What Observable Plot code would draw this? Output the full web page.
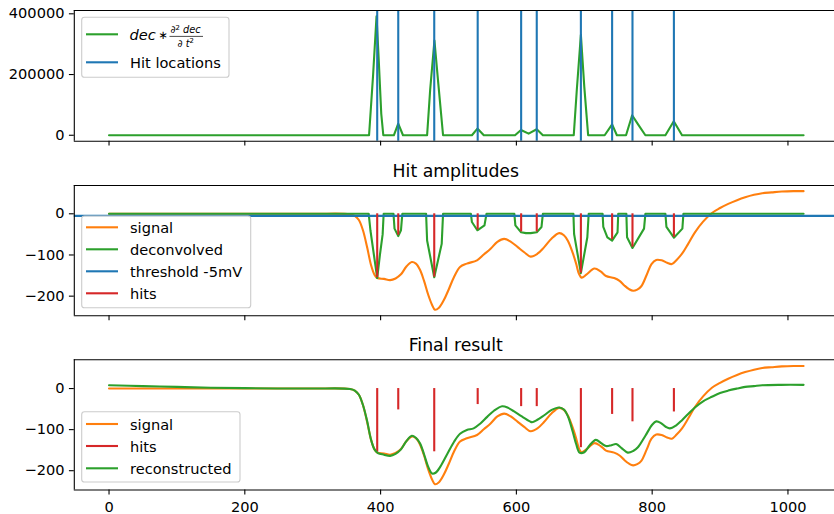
<!DOCTYPE html>
<html><head><meta charset="utf-8">
<script src="https://cdn.jsdelivr.net/npm/d3@7"></script>
<script src="https://cdn.jsdelivr.net/npm/@observablehq/plot@0.6"></script>
<style>
body{margin:0;background:#fff;}
#chart{width:834px;height:514px;position:relative;overflow:hidden;}
#chart svg{display:block;}
</style></head><body><div id="chart"></div>
<script>
// ---------- data ----------
const hitX   = [395, 426, 479, 543, 607, 630, 695, 741, 771, 832];
const hitAmp = [-155, -52, -154, -39, -44, -44, -144, -63, -81, -57];

// dec * d2dec/dt2 (top panel)
const curvature = [
  [0,0],[383,0],[389,200000],[394,392000],[397,260000],[401,70000],[404,0],
  [419.5,0],[426,38000],[433,0],
  [468.5,0],[473,150000],[479.3,312000],[485,170000],[492,0],
  [534.5,0],[542.6,22000],[552,0],
  [598,0],[606.8,17500],[618,5500],[630,19700],[639,0],
  [684.5,0],[689,150000],[695,331000],[700,160000],[705.7,0],
  [730,0],[741,36000],[748,0],
  [761.5,0],[770.5,66000],[778,40000],[790,0],
  [819.5,0],[831.8,46000],[844,0],
  [1023,0]
];

const signal = [
  [0,0],[100,0],[200,0],[300,0],[355,-1],[362,-5],[368,-15],[374,-40],[380,-80],[386,-125],
  [391,-148],[395,-156],[405,-158],[414,-161],[422,-157],[430,-147],[438,-128],[446,-117],
  [452,-121],[458,-136],[464,-163],[470,-196],[476,-222],[480,-233],[486,-228],[493,-210],
  [500,-185],[508,-154],[517,-129],[527,-121],[542,-113],[552,-99],[562,-85],[572,-68],
  [582,-61],[592,-68],[602,-81],[612,-94],[621,-104],[631,-97],[641,-81],[652,-60],[663,-47],
  [670,-52],[676,-66],[683,-95],[688,-121],[692,-145],[696,-155],[703,-148],[715,-133],
  [724,-140],[732,-151],[744,-156],[752,-163],[759,-174],[766,-183],[772,-187],[778,-184],
  [784,-176],[792,-148],[799,-122],[806,-112],[814,-113],[822,-119],[829,-122],[836,-112],
  [844,-97],[853,-73],[863,-45],[875,-19],[888,2],[900,14],[912,24],[925,33],[937,40],
  [950,46],[962,50],[976,52],[991,54],[1008,55],[1023,55]
];

const deconvolved = [
  [0,0],[382.5,0],[385,-40],[395,-156],[399,-100],[403,-50],[404.5,0],
  [419,0],[420.5,-36],[426,-54],[430,-40],[432,0],
  [467,0],[468.5,-65],[479,-154],[490,-73],[492,0],
  [533,0],[534.5,-20],[542.5,-40],[553,-28],[556,0],
  [597,0],[598.5,-28],[607,-45],[614,-47],[621,-47],[630,-45],[637,-32],[639,0],
  [684,0],[685,-49],[695,-144],[704.5,-57],[706.5,0],
  [727,0],[728,-32],[734,-57],[741,-65],[749,-45],[750,0],
  [762,0],[763,-57],[771,-83],[788,-36],[790,0],
  [819.5,0],[821,-32],[832,-58],[844.5,-36],[846,0],
  [1023,0]
];

const reconstructed = [
  [0,8],[50,6],[100,4],[150,2],[200,1],[250,0],[300,0],[355,-1],[362,-5],[368,-15],[374,-40],
  [380,-78],[386,-125],[391,-148],[396,-157],[405,-161],[414,-164],[422,-159],[430,-148],
  [438,-128],[446,-115],[452,-120],[458,-133],[464,-160],[470,-190],[476,-207],[481,-205],
  [488,-190],[498,-160],[508,-130],[517,-110],[527,-101],[537,-97],[547,-85],[557,-69],
  [567,-54],[579,-43],[588,-47],[596,-55],[608,-68],[620,-80],[623,-82],[631,-76],[641,-65],
  [652,-52],[663,-46],[670,-51],[676,-68],[683,-105],[688,-135],[693,-156],[700,-155],
  [708,-138],[717,-125],[725,-133],[732,-140],[740,-138],[747,-135],[755,-145],[764,-156],
  [772,-152],[779,-143],[790,-115],[800,-88],[806,-80],[813,-84],[820,-93],[826,-97],
  [835,-90],[844,-77],[853,-62],[863,-46],[875,-31],[888,-20],[900,-11],[912,-5],[925,0],
  [937,4],[950,6],[962,8],[990,9],[1023,9]
];

const threshold = -5;
const xTicks = [0, 200, 400, 600, 800, 1000];
const yTicksTop = [0, 200000, 400000];
const yTicksAmp = [-200, -100, 0];

// ---------- styling ----------
const C = {blue:"#1f77b4", orange:"#ff7f0e", green:"#2ca02c", red:"#d62728"};
const FONT = "'DejaVu Sans', sans-serif";
const FS = 14.6, FST = 17.3;
const LW = 2.1, SW = 1.1, TICK = 4.9;
const xDom = [-51.15, 1074.15];
const hits = hitX.map((x, i) => ({x, amp: hitAmp[i]}));

function panel({height, marginTop, marginBottom, yDomain, yTicks, marks, showX}) {
  return Plot.plot({
    width: 834, height, marginLeft: 73.8, marginRight: 0, marginTop, marginBottom,
    style: {fontFamily: FONT, fontSize: FS + "px", color: "#000", background: "transparent"},
    x: {domain: xDom, range: [73.8, 837.8]},
    y: {domain: yDomain},
    marks: [
      ...marks,
      Plot.ruleX([xDom[0]], {stroke: "#000", strokeWidth: SW}),
      Plot.ruleY(yDomain, {stroke: "#000", strokeWidth: SW}),
      Plot.axisX({ticks: xTicks, tickSize: TICK, tickPadding: 7, strokeWidth: SW, fontSize: FS,
        tickFormat: showX ? (d => String(d)) : (() => ""), label: null}),
      Plot.axisY({ticks: yTicks, tickSize: TICK, tickPadding: 4.9, strokeWidth: SW, fontSize: FS,
        tickFormat: d3.format("d"), label: null})
    ]
  });
}

const line = (data, color, curve="linear") =>
  Plot.line(data, {x: d => d[0], y: d => d[1], stroke: color, strokeWidth: LW, curve, strokeLinejoin: "round"});

const p1 = panel({
  height: 155, marginTop: 10, marginBottom: 14.3, yDomain: [-19565, 410865], yTicks: yTicksTop,
  marks: [
    line(curvature, C.green),
    Plot.ruleX(hits, {x: "x", stroke: C.blue, strokeWidth: LW})
  ]
});
const p2 = panel({
  height: 175, marginTop: 30, marginBottom: 14.7, yDomain: [-247.7, 68.7], yTicks: yTicksAmp,
  marks: [
    line(signal, C.orange, "catmull-rom"),
    line(deconvolved, C.green),
    Plot.ruleY([threshold], {stroke: C.blue, strokeWidth: LW}),
    Plot.ruleX(hits, {x: "x", y1: 0, y2: "amp", stroke: C.red, strokeWidth: LW})
  ]
});
const p3 = panel({
  height: 184, marginTop: 29.3, marginBottom: 24.5, yDomain: [-247, 70], yTicks: yTicksAmp, showX: true,
  marks: [
    line(signal, C.orange, "catmull-rom"),
    Plot.ruleX(hits, {x: "x", y1: 0, y2: "amp", stroke: C.red, strokeWidth: LW}),
    line(reconstructed, C.green, "catmull-rom")
  ]
});

const chart = document.getElementById("chart");
[p1, p2, p3].forEach(p => chart.appendChild(p));

function title(svg, text, baseline) {
  const cx = svg.scale("x").apply((xDom[0] + xDom[1]) / 2);
  d3.select(svg).append("text").attr("x", cx).attr("y", baseline).attr("text-anchor", "middle")
    .attr("font-family", FONT).attr("font-size", FST).attr("fill", "#000").text(text);
}
title(p2, "Hit amplitudes", 30 - 8.3);
title(p3, "Final result", 29.3 - 8.3);

function legendBox(svg, x, y, w, h) {
  const g = d3.select(svg).append("g").attr("text-anchor", "start");
  g.append("rect").attr("x", x).attr("y", y).attr("width", w).attr("height", h).attr("rx", 2.8)
    .attr("fill", "#fff").attr("fill-opacity", 0.8).attr("stroke", "#cccccc").attr("stroke-width", 1.1);
  return g;
}
function legendEntry(g, y, color, label) {
  g.append("line").attr("x1", 86).attr("x2", 118).attr("y1", y).attr("y2", y)
    .attr("stroke", color).attr("stroke-width", LW);
  if (label != null)
    g.append("text").attr("x", 130).attr("y", y).attr("dy", "0.38em").attr("font-family", FONT)
      .attr("text-anchor", "start").attr("font-size", FS).attr("fill", "#000").text(label);
}

// top legend (page offset 0)
{
  const g = legendBox(p1, 81.7, 17.3, 147.3, 60);
  legendEntry(g, 34.3, C.green, null);
  const t = g.append("g").attr("font-family", FONT).attr("fill", "#000").attr("text-anchor", "start");
  t.append("text").attr("x", 129.5).attr("y", 40).attr("font-size", FS).attr("font-style", "italic").text("dec");
  t.append("text").attr("x", 158.5).attr("y", 39).attr("font-size", 11.5).text("∗");
  const num = t.append("text").attr("x", 170.5).attr("y", 33.2).attr("font-size", 9.8).attr("font-style", "italic");
  num.append("tspan").text("∂");
  num.append("tspan").attr("font-size", 6.9).attr("dy", -3.5).attr("font-style", "normal").text("2");
  num.append("tspan").attr("dy", 3.5).text(" dec");
  g.append("line").attr("x1", 169.5).attr("x2", 203).attr("y1", 36.4).attr("y2", 36.4).attr("stroke", "#000").attr("stroke-width", 0.7);
  const den = t.append("text").attr("x", 177.5).attr("y", 46.5).attr("font-size", 9.8).attr("font-style", "italic");
  den.append("tspan").text("∂ t");
  den.append("tspan").attr("font-size", 6.9).attr("dy", -3.5).attr("font-style", "normal").text("2");
  legendEntry(g, 62.3, C.blue, "Hit locations");
}
// middle legend (page offset 155)
{
  const o = 155;
  const g = legendBox(p2, 81.7, 216 - o, 169, 91.7);
  legendEntry(g, 227.3 - o, C.orange, "signal");
  legendEntry(g, 249.3 - o, C.green, "deconvolved");
  legendEntry(g, 271.3 - o, C.blue, "threshold -5mV");
  legendEntry(g, 293.3 - o, C.red, "hits");
}
// bottom legend (page offset 330)
{
  const o = 330;
  const g = legendBox(p3, 81.7, 411.7 - o, 158.3, 70.3);
  legendEntry(g, 424 - o, C.orange, "signal");
  legendEntry(g, 446 - o, C.red, "hits");
  legendEntry(g, 468.3 - o, C.green, "reconstructed");
}
</script></body></html>
